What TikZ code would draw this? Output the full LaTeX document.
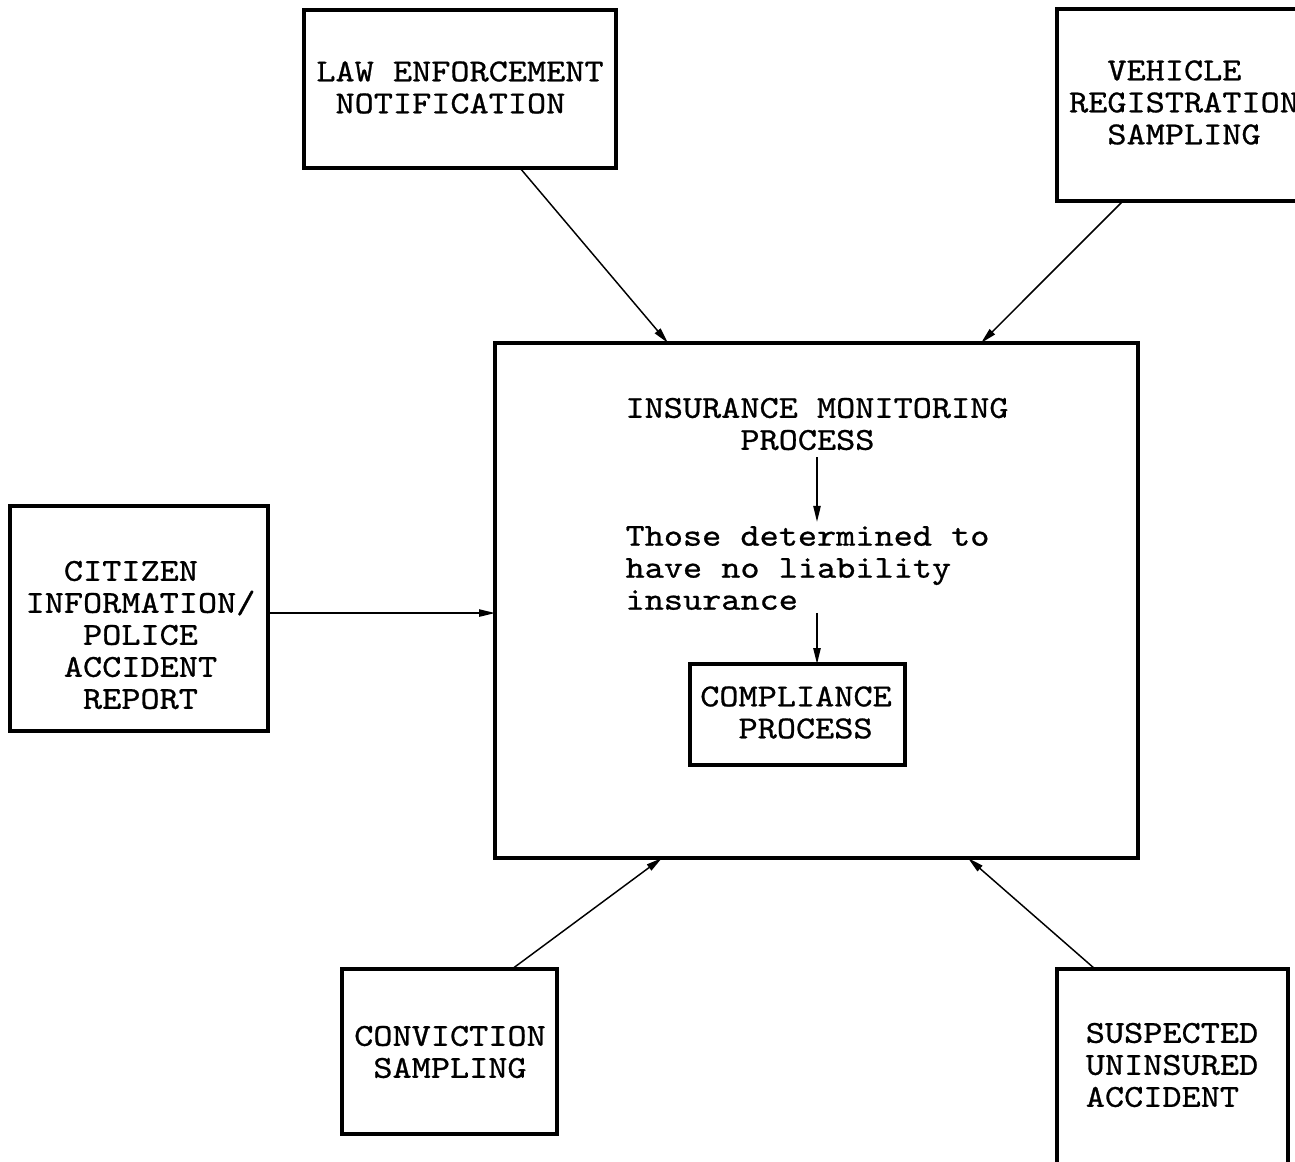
\documentclass[tikz,border=0pt]{standalone}
\usepackage{fontspec}
\newfontfamily\cour{lmmono10-regular.otf}[FakeStretch=1.14,FakeBold=0.8]
\usetikzlibrary{arrows.meta}
\begin{document}
\begin{tikzpicture}[x=0.75pt,y=-0.75pt,
  box/.style={draw,line width=3.2pt,inner sep=0pt,outer sep=0pt},
  txt/.style={inner sep=0pt,align=left,font=\cour\fontsize{24}{24}\selectfont},
  arr/.style={line width=1.1pt,-{Triangle[length=12pt,width=5.5pt]}}]
\useasboundingbox (0,0) rectangle (1295,1161);
\clip (0,0) rectangle (1295,1161);
% boxes
\node[box,minimum width=312*0.75pt,minimum height=158*0.75pt] (law) at (460,89) {};
\node[box,minimum width=253*0.75pt,minimum height=192*0.75pt] (veh) at (1183.5,105) {};
\node[box,minimum width=258*0.75pt,minimum height=225*0.75pt] (cit) at (139,618.5) {};
\node[box,line width=3.6pt,minimum width=643*0.75pt,minimum height=515*0.75pt] (main) at (816.5,600.5) {};
\node[box,minimum width=215*0.75pt,minimum height=101*0.75pt] (comp) at (797.5,714.5) {};
\node[box,minimum width=215*0.75pt,minimum height=165*0.75pt] (conv) at (449.5,1051.5) {};
\node[box,minimum width=231*0.75pt,minimum height=211*0.75pt] (sus) at (1172.5,1074.5) {};
% texts
\node[txt] (lawt) at (460,87.5) {LAW ENFORCEMENT\\\hphantom{X}NOTIFICATION};
\node[txt] (veht) at (1184,102.5) {\hphantom{XX}VEHICLE\\REGISTRATION\\\hphantom{XX}SAMPLING};
\node[txt] (citt) at (140.5,635) {\hphantom{XX}CITIZEN\\INFORMATION/\\\hphantom{XXX}POLICE\\\hphantom{XX}ACCIDENT\\\hphantom{XXX}REPORT};
\node[txt] (title) at (817,424) {INSURANCE MONITORING\\\hphantom{XXXXXX}PROCESS};
\node[txt] (those) at (807.5,568) {Those determined to\\have no liability\\insurance};
\node[txt] (compt) at (796,712.5) {COMPLIANCE\\\hphantom{XX}PROCESS};
\node[txt] (convt) at (450,1052) {CONVICTION\\\hphantom{X}SAMPLING};
\node[txt] (sust) at (1172,1065) {SUSPECTED\\UNINSURED\\ACCIDENT};
% connectors
\draw[arr] ([xshift=45pt]law.south) -- ([xshift=-111.4pt]main.north);
\draw[arr] ([xshift=-45.4pt]veh.south) -- ([xshift=123.4pt]main.north);
\draw[arr] ([yshift=4.1pt]cit.east) -- ([yshift=-9.4pt]main.west);
\draw[arr] ([xshift=46.9pt]conv.north) -- ([xshift=-115.9pt]main.south);
\draw[arr] ([xshift=-58.1pt]sus.north) -- ([xshift=113.6pt]main.south);
\draw[arr] ([yshift=-5pt]title.south) -- ([yshift=3pt]title.south |- those.north);
\draw[arr] ([yshift=-2pt]those.south -| title.south) -- (comp.north -| title.south);
\end{tikzpicture}
\end{document}
